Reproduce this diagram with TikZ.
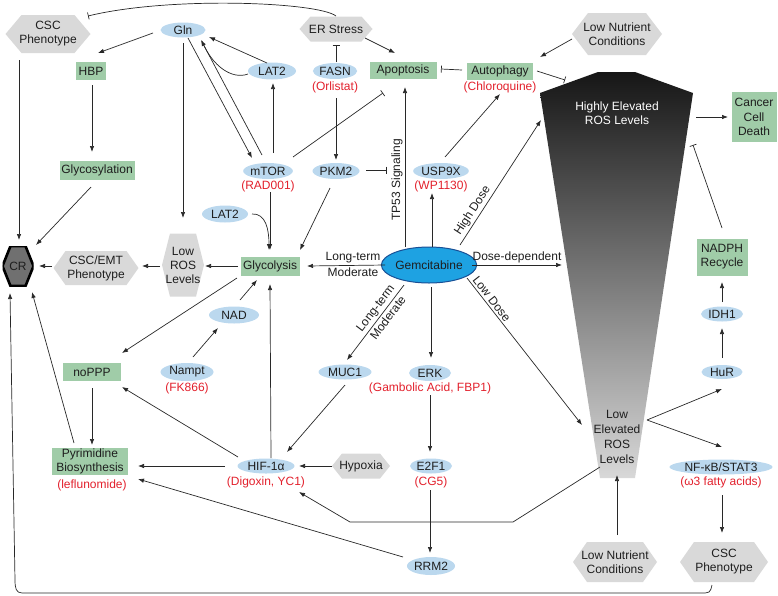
\documentclass[tikz,border=0pt]{standalone}
\usepackage{fontspec}
\setmainfont{Liberation Sans}
\usetikzlibrary{arrows.meta,calc,shapes.geometric}
\definecolor{gfill}{RGB}{160,204,168}
\definecolor{bfill}{RGB}{187,216,238}
\definecolor{hexfill}{RGB}{217,217,217}
\definecolor{crfill}{RGB}{112,112,112}
\definecolor{dred}{RGB}{226,32,44}
\definecolor{txt}{RGB}{30,30,30}
\definecolor{lc}{RGB}{40,40,40}
\definecolor{gemfill}{RGB}{30,162,226}
\definecolor{gemdraw}{RGB}{25,80,150}
\definecolor{rosA}{RGB}{22,22,22}
\definecolor{rosB}{RGB}{120,120,120}
\definecolor{rosC}{RGB}{216,216,216}
\begin{document}
\begin{tikzpicture}[x=1pt,y=-1pt,
  every node/.style={font=\fontsize{12}{14}\selectfont, text=txt},
  gbox/.style={rectangle, fill=gfill, inner sep=0pt, align=center},
  bell/.style={ellipse, fill=bfill, inner sep=0pt},
  drug/.style={text=dred, inner sep=0pt},
  hexa/.style={rectangle, fill=white, inner sep=0pt, align=center,
    path picture={\fill[hexfill] (path picture bounding box.west)
      -- ([xshift=#1]path picture bounding box.north west)
      -- ([xshift=-#1]path picture bounding box.north east)
      -- (path picture bounding box.east)
      -- ([xshift=-#1]path picture bounding box.south east)
      -- ([xshift=#1]path picture bounding box.south west) -- cycle;}},
  crhex/.style={rectangle, fill=white, inner sep=0pt,
    path picture={\filldraw[fill=crfill, draw=black, line width=2.6pt] (path picture bounding box.west)
      -- ([xshift=#1]path picture bounding box.north west)
      -- ([xshift=-#1]path picture bounding box.north east)
      -- (path picture bounding box.east)
      -- ([xshift=-#1]path picture bounding box.south east)
      -- ([xshift=#1]path picture bounding box.south west) -- cycle;}},
  con/.style={draw=lc, line width=0.7pt},
  arr/.style={con, -{Latex[length=6pt,width=4.5pt]}},
  inh/.style={con, -{Bar[width=7pt]}},
  lab/.style={inner sep=2pt}
]
\useasboundingbox (0,0) rectangle (778,595);

% ---------- ROS funnel ----------
\shade[top color=rosA, middle color=rosB, bottom color=rosC]
  (598,72) -- (635,72) -- (693,93) -- (635,478) -- (600,478) -- (540,93) -- cycle;
\node[text=white, align=center] (hiros) at (617,113) {Highly Elevated\\ROS Levels};
\node[align=center, font=\fontsize{12}{15}\selectfont] (loros) at (617,437) {Low\\Elevated\\ROS\\Levels};
\coordinate (hiIn) at (541,120);
\coordinate (ddIn) at (562,265);
\coordinate (loIn) at (582,425);
\coordinate (autoBar) at (565,80);
\coordinate (canOut) at (696,117);
\coordinate (nadBar) at (693,145);
\coordinate (loR) at (647,420);
\coordinate (loL) at (600,467);
\coordinate (loBot) at (617,475);
\coordinate (tpBar) at (387,170);

% ---------- nodes ----------
\node[hexa=16, minimum width=85pt, minimum height=38pt] (cscT) at (48,34) {CSC\\Phenotype};
\node[bell, minimum width=45pt, minimum height=15pt] (gln) at (183,30) {Gln};
\node[gbox, minimum width=30pt, minimum height=18pt] (hbp) at (91,71) {HBP};
\node[gbox, minimum width=75pt, minimum height=19pt] (glyc) at (97,170) {Glycosylation};
\node[hexa=11, minimum width=73pt, minimum height=25pt] (er) at (336,29) {ER Stress};
\node[bell, minimum width=48pt, minimum height=17pt] (lat2a) at (272,71) {LAT2};
\node[bell, minimum width=44pt, minimum height=16pt] (fasn) at (335,71) {FASN};
\node[drug] (fasnD) at (335,87) {(Orlistat)};
\node[gbox, minimum width=67pt, minimum height=17pt] (apop) at (403,70) {Apoptosis};
\node[gbox, minimum width=66pt, minimum height=17pt] (auto) at (500,71) {Autophagy};
\node[drug] (autoD) at (500,87) {(Chloroquine)};
\node[hexa=16, minimum width=90pt, minimum height=42pt] (lnT) at (617,34) {Low Nutrient\\Conditions};
\node[bell, minimum width=40pt, minimum height=16pt] (mtor) at (268,171) {mTOR};
\node[drug] (mtorD) at (268,186) {(RAD001)};
\node[bell, minimum width=47pt, minimum height=16pt] (pkm2) at (336,171) {PKM2};
\node[bell, minimum width=53pt, minimum height=16pt] (usp) at (441,171) {USP9X};
\node[drug] (uspD) at (441,186) {(WP1130)};
\node[gbox, minimum width=45pt, minimum height=50pt, font=\fontsize{12}{14.5}\selectfont] (cancer) at (754,117) {Cancer\\Cell\\Death};
\node[bell, minimum width=46pt, minimum height=17pt] (lat2b) at (225,214) {LAT2};
\node[hexa=8, minimum width=42pt, minimum height=63pt] (lowros) at (183,265) {Low\\ROS\\Levels};
\node[hexa=12, minimum width=85pt, minimum height=34pt] (cscemt) at (96,268) {CSC/EMT\\Phenotype};
\node[crhex=8, minimum width=31pt, minimum height=40pt] (cr) at (18,266) {CR};
\node[gbox, minimum width=59pt, minimum height=19pt] (glyco) at (270,266) {Glycolysis};
\node[ellipse, fill=gemfill, draw=gemdraw, line width=1pt, inner sep=0pt, minimum width=80pt, minimum height=36pt] (gem) at (429,265) {Gemcitabine};
\node[bell, minimum width=50pt, minimum height=17pt] (nad) at (234,315) {NAD};
\node[bell, minimum width=53pt, minimum height=18pt] (nampt) at (187,372) {Nampt};
\node[drug] (namptD) at (187,388) {(FK866)};
\node[gbox, minimum width=58pt, minimum height=18pt] (noppp) at (92,372) {noPPP};
\node[bell, minimum width=53pt, minimum height=15pt] (muc1) at (345,372) {MUC1};
\node[bell, minimum width=42pt, minimum height=16pt] (erk) at (430,373) {ERK};
\node[drug] (erkD) at (430,388) {(Gambolic Acid, FBP1)};
\node[gbox, minimum width=51pt, minimum height=37pt] (nadph) at (722,257) {NADPH\\Recycle};
\node[bell, minimum width=42pt, minimum height=15pt] (idh1) at (722,314) {IDH1};
\node[bell, minimum width=41pt, minimum height=14pt] (hur) at (722,372) {HuR};
\node[gbox, minimum width=76pt, minimum height=27pt] (pyr) at (90,461) {Pyrimidine\\Biosynthesis};
\node[drug] (pyrD) at (92,485) {(leflunomide)};
\node[bell, minimum width=57pt, minimum height=15pt] (hif) at (266,466) {HIF-1α};
\node[drug] (hifD) at (266,482) {(Digoxin, YC1)};
\node[hexa=10, minimum width=58pt, minimum height=25pt] (hyp) at (361,466) {Hypoxia};
\node[bell, minimum width=42pt, minimum height=15pt] (e2f1) at (431,466) {E2F1};
\node[drug] (e2f1D) at (431,482) {(CG5)};
\node[bell, minimum width=87pt, minimum height=15pt] (nfkb) at (721,467) {NF-κB/STAT3};
\node[drug] (nfkbD) at (721,482) {(ω3 fatty acids)};
\node[bell, minimum width=45pt, minimum height=18pt] (rrm2) at (431,566) {RRM2};
\node[hexa=14, minimum width=84pt, minimum height=40pt] (lnB) at (615,562) {Low Nutrient\\Conditions};
\node[hexa=14, minimum width=88pt, minimum height=40pt] (cscB) at (724,562) {CSC\\Phenotype};

% ---------- connectors ----------
\draw[inh] ($(er)+(0,-13)$) .. controls (318,2) and (170,-4) .. ($(cscT)+(40,-18)$);
\draw[arr] ($(gln)+(-30,3)$) -- ($(hbp)+(7,-18)$);
\draw[arr] ($(hbp)+(1,14)$) -- ($(glyc)+(-5,-18)$);
\draw[arr] ($(glyc)+(-6,17)$) -- ($(cr)+(18,-21)$);
\draw[arr] ($(cscT)+(-29,26)$) -- ($(cr)+(1,-26)$);
\draw[arr] ($(gln)+(0,13)$) -- ($(lowros)+(0,-47)$);
\draw[arr] ($(gln)+(5,8)$) -- ($(mtor)+(-16,-13)$);
\draw[arr] ($(mtor)+(-6,-16)$) -- ($(gln)+(18,10)$);
\draw[arr] ($(lat2a)+(-5,-8)$) -- ($(gln)+(26,7)$);
\draw[con] ($(lat2a)+(-24,3)$) .. controls (232,80) and (212,66) .. ($(gln)+(19,11)$);
\draw[arr] ($(mtor)+(5,-18)$) -- ($(lat2a)+(1,12)$);
\draw[inh] ($(mtor)+(25,-14)$) -- ($(apop)+(-20,23)$);
\draw[arr] ($(mtor)+(2,21)$) -- ($(glyco)+(0,-16)$);
\draw[arr] ($(lat2b)+(27,0)$) .. controls (266,213) and (269,230) .. ($(glyco)+(-1,-16)$);
\draw[arr] ($(pkm2)+(-6,17)$) -- ($(glyco)+(30,-16)$);
\draw[arr] ($(fasn)+(1,27)$) -- ($(pkm2)+(0,-11)$);
\draw[inh] ($(fasn)+(1,-9)$) -- ($(er)+(0,16)$);
\draw[arr] ($(er)+(29,9)$) -- ($(apop)+(-8,-17)$);
\draw[inh] ($(auto)+(-38,-1)$) -- ($(apop)+(38,-1)$);
\draw[inh] ($(pkm2)+(30,-1)$) -- (tpBar);
\draw[arr] ($(gem)+(-24,-18)$) -- node[lab, pos=.42, sloped, above] {TP53 Signaling} ($(apop)+(2,17)$);
\draw[arr] ($(gem)+(3,-18)$) -- ($(usp)+(-9,22)$);
\draw[arr] ($(usp)+(4,-14)$) -- ($(auto)+(0,23)$);
\draw[arr] ($(lnT)+(-45,5)$) -- ($(auto)+(40,-14)$);
\draw[inh] ($(auto)+(37,0)$) -- (autoBar);
\draw[arr] ($(gem)+(31,-20)$) -- node[lab, pos=.24, sloped, above] {High Dose} (hiIn);
\draw[arr] ($(gem)+(43,0)$) -- node[lab, pos=.5, above] {Dose-dependent} (ddIn);
\draw[arr] ($(gem)+(38,13)$) -- node[lab, pos=.17, sloped, above] {Low Dose} (loIn);
\draw[arr] ($(gem)+(-44,0)$) -- node[lab, pos=.41, above] {Long-term} node[lab, pos=.41, below] {Moderate} ($(glyco)+(37,0)$);
\draw[arr] ($(gem)+(-25,20)$) -- node[lab, pos=.38, sloped, above] {Long-term} node[lab, pos=.38, sloped, below] {Moderate} ($(muc1)+(2,-12)$);
\draw[arr] ($(gem)+(2,22)$) -- ($(erk)+(1,-15)$);
\draw[arr] ($(erk)+(0,22)$) -- ($(e2f1)+(-1,-14)$);
\draw[arr] ($(e2f1)+(-1,24)$) -- ($(rrm2)+(-1,-13)$);
\draw[arr] ($(muc1)+(0,13)$) -- ($(hif)+(21,-14)$);
\draw[arr] ($(hif)+(5,-8)$) -- ($(glyco)+(0,18)$);
\draw[arr] ($(hif)+(-28,-9)$) -- ($(noppp)+(30,15)$);
\draw[arr] ($(hif)+(-41,0)$) -- ($(pyr)+(48,5)$);
\draw[arr] ($(hyp)+(-29,0)$) -- ($(hif)+(33,0)$);
\draw[arr] ($(rrm2)+(-28,-9)$) -- ($(pyr)+(48,18)$);
\draw[arr] (loL) -- (513,522) -- (350,522) -- ($(hif)+(33,26)$);
\draw[arr] ($(glyco)+(-32,0)$) -- ($(lowros)+(22,1)$);
\draw[arr] ($(lowros)+(-23,1)$) -- ($(cscemt)+(46,-2)$);
\draw[arr] ($(cscemt)+(-44,-2)$) -- ($(cr)+(21,0)$);
\draw[arr] ($(glyco)+(-33,12)$) -- ($(noppp)+(30,-19)$);
\draw[arr] ($(nad)+(6,-15)$) -- ($(glyco)+(-13,14)$);
\draw[arr] ($(nampt)+(6,-15)$) -- ($(nad)+(-16,13)$);
\draw[arr] ($(noppp)+(0,16)$) -- ($(pyr)+(2,-16)$);
\draw[arr] ($(pyr)+(-16,-18)$) -- ($(cr)+(14,26)$);
\draw[arr] ($(cscB)+(-12,23)$) .. controls (710,593) .. (700,593) -- (22,593)
  .. controls (16,593) and (15,588) .. (15,580) -- ($(cr)+(-8,27)$);
\draw[arr] (canOut) -- ($(cancer)+(-26,0)$);
\draw[inh] ($(nadph)+(0,-29)$) -- (nadBar);
\draw[arr] ($(idh1)+(0,-12)$) -- ($(nadph)+(0,25)$);
\draw[arr] ($(hur)+(0,-14)$) -- ($(idh1)+(0,14)$);
\draw[arr] (loR) -- ($(hur)+(0,17)$);
\draw[arr] (loR) -- ($(nfkb)+(1,-20)$);
\draw[arr] ($(nfkb)+(1,28)$) -- ($(cscB)+(-2,-29)$);
\draw[arr] ($(lnB)+(2,-27)$) -- (loBot);
\end{tikzpicture}
\end{document}
